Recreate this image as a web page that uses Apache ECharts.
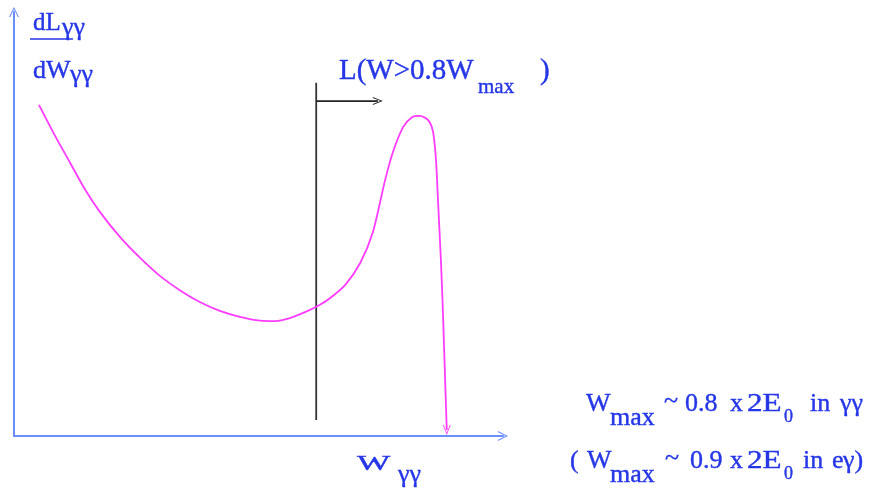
<!DOCTYPE html>
<html>
<head>
<meta charset="utf-8">
<script src="https://cdn.jsdelivr.net/npm/echarts@6/dist/echarts.min.js"></script>
<style>html,body{margin:0;padding:0;background:#fff}#c{width:886px;height:491px}</style>
</head>
<body>
<div id="c"></div>
<script>
// ---- data (arbitrary schematic units, W on x, dL/dW on y) ----
const curveW = [0.51,0.84,1.15,1.45,1.76,2.17,2.58,2.99,3.39,3.80,4.21,4.62,5.03,5.34,5.64,5.95,6.22,6.46,6.77,7.08,7.34,7.59,7.75,7.96,8.14,8.30,8.47,8.57,8.63,8.67,8.73,8.77,8.81,8.85];
const curveL = [7.81,7.08,6.44,5.82,5.28,4.69,4.20,3.77,3.44,3.16,2.95,2.81,2.72,2.71,2.78,2.92,3.07,3.25,3.56,4.08,4.81,6.04,6.70,7.29,7.52,7.55,7.45,7.17,6.51,5.57,4.15,2.97,1.56,0.14];
const cutW = [6.18, 6.18];
const cutL = [0.38, 8.33];
const arrowW = [6.18, 7.44];
const arrowL = [7.90, 7.90];
const axisMax = [10, 10];

const BLUE = '#2536e6';
const AXIS = '#6a8ef8';
const MAG = '#ff3cff';
const CHEV = 'path://M0,12 L6,0 L12,12 L10.6,12 L6,2.8 L1.4,12 Z';
const SERIF = '"Liberation Serif", "Times New Roman", serif';

const chart = echarts.init(document.getElementById('c'), null, {renderer: 'canvas'});

function T(text, x, base, size, extra) {
  const el = {
    type: 'text', x: x, y: base - 0.34 * size, z: 100,
    style: {text: text, font: size + 'px ' + SERIF, fill: BLUE, stroke: BLUE, lineWidth: 0.4,
            align: 'left', verticalAlign: 'middle'}
  };
  return Object.assign(el, extra || {});
}

const last = curveW.length - 1;
const curveData = curveW.map((w, i) => i === last
  ? {value: [w, curveL[i]], symbol: CHEV, symbolSize: [8, 10], symbolRotate: 180, itemStyle: {color: MAG}}
  : [w, curveL[i]]);

const option = {
  animation: false,
  backgroundColor: '#fff',
  grid: {left: 14, top: 12, right: 383, bottom: 55, containLabel: false},
  xAxis: {
    type: 'value', min: 0, max: axisMax[0],
    axisLine: {show: true, symbol: ['none', CHEV], symbolSize: [10, 12], lineStyle: {color: AXIS, width: 2}},
    axisTick: {show: false}, axisLabel: {show: false}, splitLine: {show: false}
  },
  yAxis: {
    type: 'value', min: 0, max: axisMax[1],
    axisLine: {show: true, symbol: ['none', CHEV], symbolSize: [10, 12], lineStyle: {color: AXIS, width: 2}},
    axisTick: {show: false}, axisLabel: {show: false}, splitLine: {show: false}
  },
  series: [
    {
      type: 'line', data: curveData, smooth: 0.25, symbol: 'none', showSymbol: true,
      lineStyle: {color: MAG, width: 1.8}, itemStyle: {color: MAG}, z: 3
    },
    {
      type: 'line', data: cutW.map((w, i) => [w, cutL[i]]), symbol: 'none',
      lineStyle: {color: '#333', width: 1.8}, z: 2
    },
    {
      type: 'line', data: arrowW.map((w, i) => i === 1
        ? {value: [w, arrowL[i]], symbol: CHEV, symbolSize: [8, 10], symbolRotate: -90, itemStyle: {color: '#222'}}
        : [w, arrowL[i]]),
      symbol: 'none', showSymbol: true,
      lineStyle: {color: '#222', width: 1.8}, z: 2
    }
  ],
  graphic: [
    // y-axis label  dL_γγ / dW_γγ
    T('dL', 33, 32, 25),
    T('γγ', 62, 37, 26),
    {type: 'line', z: 100, shape: {x1: 30, y1: 39, x2: 73, y2: 39}, style: {stroke: BLUE, lineWidth: 1.6}},
    T('dW', 33, 80, 26),
    T('γγ', 70, 84, 26),
    // L(W>0.8W_max )
    T('L(W>0.8W', 339, 81, 29),
    T('max', 478, 95, 21),
    T(')', 540, 81, 29),
    // x-axis label W_γγ
    T('W', 357, 472, 22, {scaleX: 1.6}),
    T('γγ', 398, 484, 26),
    // line 1
    T('W', 586, 413, 26),
    T('max', 610, 427, 26),
    T('~', 664, 410, 26),
    T('0.8', 685, 413, 26),
    T('x', 730, 413, 26),
    T('2E', 747, 413, 26, {scaleX: 1.2}),
    T('0', 784, 423, 18),
    T('in', 810, 413, 26),
    T('γγ', 840, 413, 26),
    // line 2
    T('(', 570, 470, 26),
    T('W', 587, 470, 26),
    T('max', 610, 484, 26),
    T('~', 665, 467, 26),
    T('0.9', 690, 470, 26),
    T('x', 730, 470, 26),
    T('2E', 747, 470, 26, {scaleX: 1.2}),
    T('0', 784, 480, 18),
    T('in', 803, 470, 26),
    T('e', 832, 470, 26),
    T('γ)', 843, 470, 26)
  ]
};
chart.setOption(option);
</script>
</body>
</html>
